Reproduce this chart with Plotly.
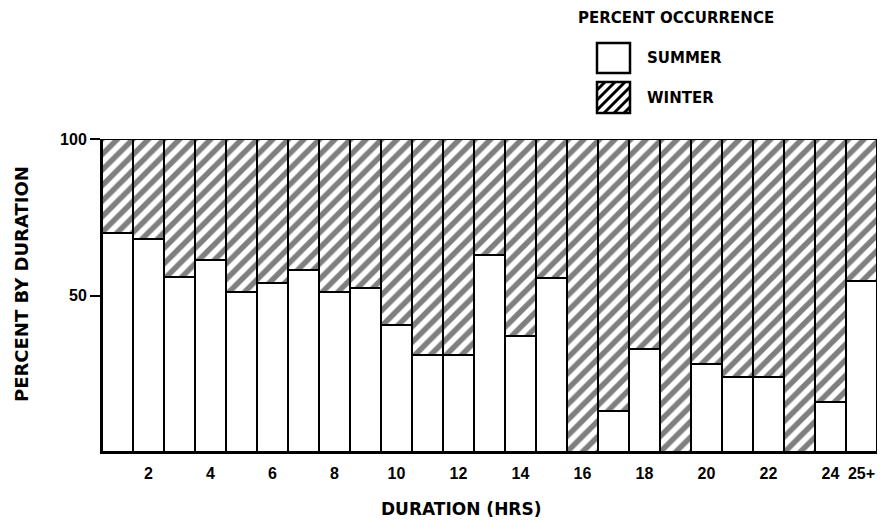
import plotly.graph_objects as go

# Percent of events by duration (hours), split into summer and winter
durations = [str(h) for h in range(1, 25)] + ["25+"]
summer = [70, 68, 56, 61.5, 51, 54, 58, 51, 52.5, 40.5, 31, 31, 63,
          37, 55.5, 0, 13, 33, 0, 28, 24, 24, 0, 16, 54.5]
winter = [30, 32, 44, 38.5, 49, 46, 42, 49, 47.5, 59.5, 69, 69, 37,
          63, 44.5, 100, 87, 67, 100, 72, 76, 76, 100, 84, 45.5]
tick_labels = ["2", "4", "6", "8", "10", "12", "14", "16", "18", "20", "22", "24", "25+"]
tick_cats = ["2", "4", "6", "8", "10", "12", "14", "16", "18", "20", "22", "24", "25+"]

W, H = 892, 529
L, R, T, B = 102, 15, 139, 77
PW, PH = W - L - R, H - T - B
TICK_FONT = dict(family="Liberation Sans", size=16, color="black", weight="bold")
LEGEND_FONT = dict(family="DejaVu Sans", size=15, color="black", weight="bold")
TITLE_FONT = dict(family="DejaVu Sans", size=17, color="black", weight="bold")
YTITLE_FONT = dict(family="DejaVu Sans", size=18, color="black", weight="bold")


def px(x):
    return (x - L) / PW


def py(y):
    return (H - B - y) / PH


fig = go.Figure()
fig.add_trace(go.Bar(
    x=durations, y=summer, name="SUMMER",
    marker=dict(color="white", line=dict(color="black", width=2)),
))
fig.add_trace(go.Bar(
    x=durations, y=winter, name="WINTER",
    marker=dict(color="white", line=dict(color="black", width=2),
                pattern=dict(shape="/", size=11, solidity=0.5,
                             fgcolor="black", bgcolor="white")),
))

shapes = []
annotations = []

# Legend keys drawn by hand so the boxes can be larger than the default swatches
kx0, kx1 = 597, 630
for (ky0, ky1) in [(43, 73), (82, 113)]:
    shapes.append(dict(type="rect", xref="paper", yref="paper",
                       x0=px(kx0), x1=px(kx1), y0=py(ky1), y1=py(ky0),
                       line=dict(color="black", width=2.5), fillcolor="white"))
hx0, hx1, hy0, hy1 = 597, 630, 82, 113
c = hx0 + hy0 + 8
while c < hx1 + hy1:
    xa = max(hx0, c - hy1)
    xb = min(hx1, c - hy0)
    if xb - xa > 1:
        shapes.append(dict(type="line", xref="paper", yref="paper",
                           x0=px(xa), y0=py(c - xa), x1=px(xb), y1=py(c - xb),
                           line=dict(color="black", width=3)))
    c += 10

annotations += [
    dict(text="PERCENT OCCURRENCE", x=px(676), y=py(18), xref="paper", yref="paper",
         xanchor="center", yanchor="middle", showarrow=False, font=LEGEND_FONT),
    dict(text="SUMMER", x=px(645), y=py(58), xref="paper", yref="paper",
         xanchor="left", yanchor="middle", showarrow=False, font=LEGEND_FONT),
    dict(text="WINTER", x=px(645), y=py(98), xref="paper", yref="paper",
         xanchor="left", yanchor="middle", showarrow=False, font=LEGEND_FONT),
    dict(text="DURATION (HRS)", x=px(461), y=py(509), xref="paper", yref="paper",
         xanchor="center", yanchor="middle", showarrow=False, font=TITLE_FONT),
    dict(text="PERCENT BY DURATION", x=px(21), y=py(284), xref="paper", yref="paper",
         xanchor="center", yanchor="middle", showarrow=False, textangle=-90, font=YTITLE_FONT),
]

fig.update_layout(
    width=W, height=H,
    margin=dict(l=L, r=R, t=T, b=B, pad=0),
    barmode="stack", bargap=0,
    showlegend=False,
    plot_bgcolor="white", paper_bgcolor="white",
    font=TICK_FONT,
    shapes=shapes,
    annotations=annotations,
    xaxis=dict(type="category", range=[-0.5, 24.5], tickmode="array",
               tickvals=tick_cats, ticktext=tick_labels,
               ticks="outside", ticklen=6, tickcolor="white",
               showline=True, linecolor="black", linewidth=2,
               showgrid=False, zeroline=False, tickfont=TICK_FONT),
    yaxis=dict(range=[0, 100], tickvals=[50, 100], ticktext=["50", "100"],
               ticks="outside", ticklen=10, tickwidth=2, tickcolor="black",
               showline=True, linecolor="black", linewidth=2,
               showgrid=False, zeroline=False, tickfont=TICK_FONT),
)

fig.write_html("out.html")
